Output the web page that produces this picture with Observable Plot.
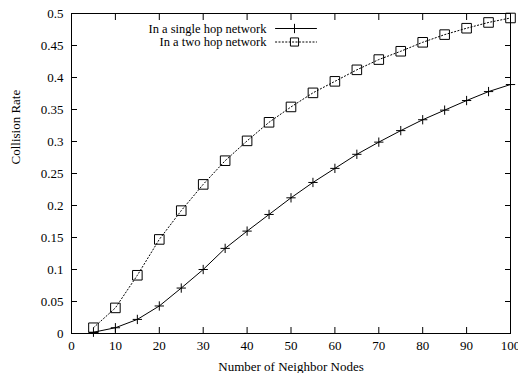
<!DOCTYPE html>
<html>
<head>
<meta charset="utf-8">
<script src="https://cdn.jsdelivr.net/npm/d3@7"></script>
<script src="https://cdn.jsdelivr.net/npm/@observablehq/plot@0.6"></script>
<style>
  html, body { margin: 0; padding: 0; background: #fff; }
  #chart { width: 518px; height: 373px; }
  #chart svg, #chart svg text { font-family: "Liberation Serif", "Times New Roman", serif !important; }
</style>
</head>
<body>
<div id="chart"></div>
<script>
const neighborNodes = [5, 10, 15, 20, 25, 30, 35, 40, 45, 50, 55, 60, 65, 70, 75, 80, 85, 90, 95, 100];
const singleHop = [0.002, 0.009, 0.022, 0.043, 0.071, 0.100, 0.133, 0.160, 0.186, 0.212, 0.236, 0.258, 0.280, 0.299, 0.317, 0.334, 0.349, 0.364, 0.378, 0.389];
const twoHop = [0.009, 0.040, 0.091, 0.147, 0.192, 0.233, 0.270, 0.301, 0.330, 0.354, 0.376, 0.394, 0.412, 0.428, 0.441, 0.455, 0.467, 0.477, 0.486, 0.493];
const seriesNames = ["In a single hop network", "In a two hop network"];
const xTicks = [0, 10, 20, 30, 40, 50, 60, 70, 80, 90, 100];
const yTicks = [0, 0.05, 0.1, 0.15, 0.2, 0.25, 0.3, 0.35, 0.4, 0.45, 0.5];
const xLabel = "Number of Neighbor Nodes";
const yLabel = "Collision Rate";

const single = neighborNodes.map((x, i) => ({x, y: singleHop[i]}));
const two = neighborNodes.map((x, i) => ({x, y: twoHop[i]}));

const FONT = "'Liberation Serif', 'Times New Roman', serif";
const fmt = d => String(d);
const hLine = {draw(ctx, l) { ctx.moveTo(-l / 2, 0); ctx.lineTo(l / 2, 0); }};
const DASH = "1.2,2.2";

const chart = Plot.plot({
  width: 518,
  height: 373,
  marginLeft: 71,
  marginRight: 8,
  marginTop: 13,
  marginBottom: 40,
  style: {fontFamily: FONT, fontSize: "13px", background: "#fff", color: "#000"},
  x: {domain: [0, 100]},
  y: {domain: [0, 0.5]},
  marks: [
    // tick labels
    Plot.axisX({ticks: xTicks, tickSize: 0, tickPadding: 7, tickFormat: fmt, label: null, fontSize: 13}),
    Plot.axisY({ticks: yTicks, tickSize: 0, tickPadding: 8, tickFormat: fmt, label: null, fontSize: 13}),
    // inward tick marks on all four sides
    Plot.axisX({anchor: "bottom", ticks: xTicks, tickSize: -6, tickFormat: () => "", label: null}),
    Plot.axisX({anchor: "top", ticks: xTicks, tickSize: -6, tickFormat: () => "", label: null}),
    Plot.axisY({anchor: "left", ticks: yTicks, tickSize: -6, tickFormat: () => "", label: null}),
    Plot.axisY({anchor: "right", ticks: yTicks, tickSize: -6, tickFormat: () => "", label: null}),
    Plot.frame({stroke: "#000", strokeWidth: 1}),
    // series
    Plot.line(single, {x: "x", y: "y", stroke: "#000", strokeWidth: 1}),
    Plot.dot(single, {x: "x", y: "y", symbol: "plus", r: 3.1, stroke: "#000", strokeWidth: 1}),
    Plot.line(two, {x: "x", y: "y", stroke: "#000", strokeWidth: 1, strokeDasharray: DASH}),
    Plot.dot(two, {x: "x", y: "y", symbol: "square", r: 5.4, fill: "none", stroke: "#000", strokeWidth: 1}),
    // legend
    Plot.text([seriesNames[0]], {text: d => d, frameAnchor: "top-right", dx: -244, dy: 15, textAnchor: "end", lineAnchor: "middle", fontSize: 12.5}),
    Plot.text([seriesNames[1]], {text: d => d, frameAnchor: "top-right", dx: -244, dy: 28.5, textAnchor: "end", lineAnchor: "middle", fontSize: 12.5}),
    Plot.vector([seriesNames[0]], {frameAnchor: "top-right", dx: -214.5, dy: 15, length: 41, shape: hLine, anchor: "start", stroke: "#000", strokeWidth: 1}),
    Plot.vector([seriesNames[1]], {frameAnchor: "top-right", dx: -214.5, dy: 28.5, length: 41, shape: hLine, anchor: "start", stroke: "#000", strokeWidth: 1, strokeDasharray: DASH}),
    Plot.dot([seriesNames[0]], {frameAnchor: "top-right", dx: -216, dy: 15, symbol: "plus", r: 3.1, stroke: "#000", strokeWidth: 1}),
    Plot.dot([seriesNames[1]], {frameAnchor: "top-right", dx: -216, dy: 28.5, symbol: "square", r: 4.6, fill: "none", stroke: "#000", strokeWidth: 1}),
    // axis titles
    Plot.text([xLabel], {text: d => d, frameAnchor: "bottom", dy: 33, lineAnchor: "middle", fontSize: 13}),
    Plot.text([yLabel], {text: d => d, frameAnchor: "left", dx: -56, dy: -9, rotate: -90, lineAnchor: "middle", fontSize: 13})
  ]
});
document.getElementById("chart").appendChild(chart);
</script>
</body>
</html>
